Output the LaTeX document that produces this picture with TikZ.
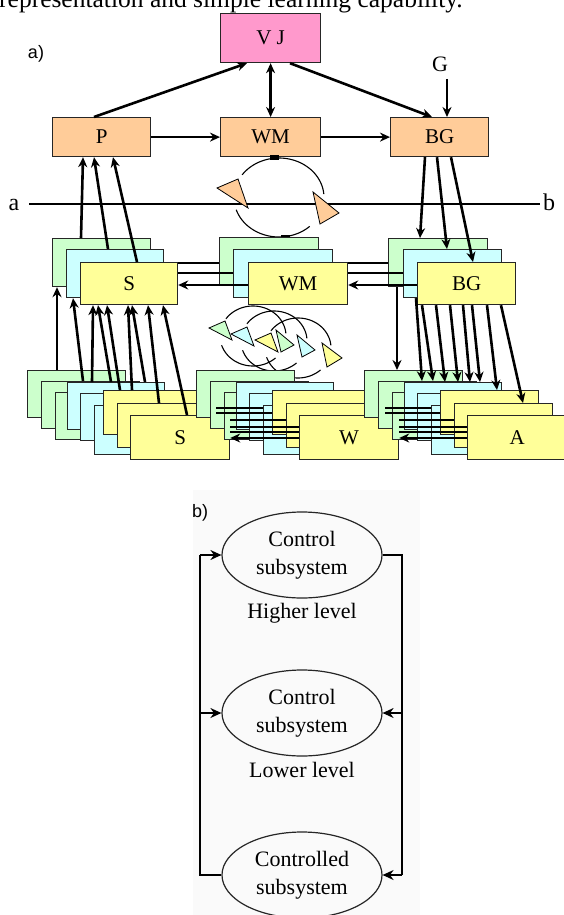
\documentclass[tikz,border=0pt]{standalone}
\usepackage{fontspec}
\setmainfont{Liberation Serif}
\newfontfamily\lsans{Liberation Sans}
\usetikzlibrary{arrows.meta,calc,shapes.geometric}
\definecolor{pinkbox}{HTML}{FF99CC}
\definecolor{orangebox}{HTML}{FFCC99}
\definecolor{greenbox}{HTML}{CCFFCC}
\definecolor{cyanbox}{HTML}{CCFFFF}
\definecolor{yellowbox}{HTML}{FFFF99}
\newcommand\bx[7]{\node[box,fill=#2,minimum width=#5pt,minimum height=#6pt] (#1) at ({#3},{#4}) {#7};}
\newcommand\botgrp[3]{%
\bx{#1g1}{greenbox}{27+#2}{370}{98}{47}{}
\bx{#1g2}{greenbox}{41+#2}{381}{98}{47}{}
\bx{#1g3}{greenbox}{55+#2}{392}{98}{47}{}
\bx{#1c1}{cyanbox}{67+#2}{382}{97}{47}{}
\bx{#1c2}{cyanbox}{80+#2}{393}{97}{47}{}
\bx{#1c3}{cyanbox}{94+#2}{405}{97}{49}{}
\bx{#1y1}{yellowbox}{103+#2}{390}{98}{44}{}
\bx{#1y2}{yellowbox}{117+#2}{403}{98}{44}{}
\bx{#1y3}{yellowbox}{130+#2}{415}{99}{44}{#3}
}
\newcommand\botlinks[2]{%
\draw[conn] (#1y2.east |- 0,408) -- (#2c3.west |- 0,408);
\draw[conn] (#1y2.east |- 0,413) -- (#2y1.west |- 0,413);
\draw[conn] (#1y3.east |- 0,420) -- (#2y2.west |- 0,420);
\draw[conn] (#1y3.east |- 0,427) -- (#2y3.west |- 0,427);
\draw[conn] (#1y3.east |- 0,432) -- (#2y3.west |- 0,432);
\draw[arr] (#2y3.west |- 0,438) -- (#1y3.east |- 0,438);
}
% small cycle: center x, center y, rx, ry
\newcommand\cyc[4]{%
\draw[cycl] plot[domain=5:145,samples=40,variable=\t] ({#1+#3*cos(\t)},{#2-#4*sin(\t)});
\draw[cycl] plot[domain=198:313,samples=40,variable=\t] ({#1+#3*cos(\t)},{#2-#4*sin(\t)});
}
\begin{document}
\begin{tikzpicture}[x=1pt,y=-1pt,
  box/.style={draw=black!85,line width=1.2pt,anchor=north west,inner sep=0pt,font=\fontsize{21}{24}\selectfont},
  arr/.style={line width=2.6pt,-{Stealth[length=10pt,width=9pt]}},
  darr/.style={line width=2.6pt,{Stealth[length=10pt,width=9pt]}-{Stealth[length=10pt,width=9pt]}},
  conn/.style={line width=2.8pt},
  cycl/.style={line width=1.1pt},
  tri/.style={draw=black,line width=0.8pt},
  ell/.style={draw=black!85,line width=1.2pt,ellipse,minimum width=160pt,minimum height=86pt,inner sep=0pt,align=center,font=\fontsize{22}{28}\selectfont},
  barr/.style={line width=1.5pt,-{Stealth[length=11pt,width=10pt]}},
  bline/.style={line width=1.5pt}
]
\useasboundingbox (0,0) rectangle (563,915);
\fill[white] (0,0) rectangle (563,915);
\fill[black!2] (193,490) rectangle (420,915);

% caption fragment cut at the top
\node[anchor=base west,inner sep=0pt,font=\fontsize{25.5}{28}\selectfont] (cap) at (-1,8) {representation and simple learning capability.};

% ---------- a) top level
\node[font=\lsans\fontsize{18}{20}\selectfont,inner sep=0pt] (la) at (36,54) {a)};
\bx{vj}{pinkbox}{220}{13}{100}{49}{V J}
\bx{p}{orangebox}{52}{117}{98}{39}{P}
\bx{wm}{orangebox}{220}{117}{100}{39}{WM}
\bx{bg}{orangebox}{390}{117}{98}{39}{BG}
\node[font=\fontsize{22}{24}\selectfont,inner sep=0pt] (G) at (440,64) {G};
\coordinate (gtop) at (447,79);
\draw[arr] (gtop) -- (gtop |- bg.north);
\draw[arr] ($(p.north west)+(42,0)$) -- ($(vj.south west)+(27,0)$);
\draw[darr] (vj.south) -- (wm.north);
\draw[arr] ($(vj.south west)+(70,0)$) -- ($(bg.north west)+(42,0)$);
\draw[arr] (p.east) -- (wm.west);
\draw[arr] (wm.east) -- (bg.west);

% line a--b
\node[font=\fontsize{24}{26}\selectfont,inner sep=0pt,anchor=base] (a) at (14,210) {a};
\node[font=\fontsize{24}{26}\selectfont,inner sep=0pt,anchor=base] (b) at (549,210) {b};
\coordinate (abl) at (29,204);
\coordinate (abr) at (540,204);
\draw[line width=1.2pt] (abl) -- (abr);

% top cycle
\cyc{279}{197.5}{45}{39.5}
\fill (270,155) rectangle (279,159.5);
\fill (281,235) rectangle (290,239);
\filldraw[tri,fill=orangebox] (217,188) -- (238,179) -- (248,208) -- cycle;
\filldraw[tri,fill=orangebox] (313,192) -- (339,213) -- (320,224) -- cycle;

% ---------- middle level
\bx{sg}{greenbox}{52}{238}{98}{48}{}
\bx{sc}{cyanbox}{66}{249}{97}{48}{}
\bx{sy}{yellowbox}{80}{262}{97}{42}{S}
\bx{wg}{greenbox}{219}{237}{99}{48}{}
\bx{wc}{cyanbox}{233}{249}{99}{48}{}
\bx{wy}{yellowbox}{248}{262}{99}{42}{WM}
\bx{bgg}{greenbox}{388}{238}{99}{48}{}
\bx{bgc}{cyanbox}{403}{249}{98}{48}{}
\bx{bgy}{yellowbox}{417}{262}{98}{42}{BG}

% middle horizontal links
\draw[conn] (sy.east |- 0,263) -- (wg.west |- 0,263);
\draw[conn] (sy.east |- 0,273) -- (wc.west |- 0,273);
\draw[arr] (wy.west |- 0,285) -- (sy.east |- 0,285);
\draw[conn] (wy.east |- 0,263) -- (bgg.west |- 0,263);
\draw[conn] (wy.east |- 0,273) -- (bgc.west |- 0,273);
\draw[arr] (bgy.west |- 0,285) -- (wy.east |- 0,285);

% middle -> P
\draw[arr] ($(sg.north west)+(29,0)$) -- ($(p.south west)+(31,0)$);
\draw[arr] ($(sc.north west)+(42,0)$) -- ($(p.south west)+(42,0)$);
\draw[arr] ($(sy.north west)+(57,0)$) -- ($(p.south west)+(61,0)$);
% BG -> middle
\draw[arr] ($(bg.south west)+(35,0)$) -- ($(bgg.north west)+(32,0)$);
\draw[arr] ($(bg.south west)+(47,0)$) -- ($(bgc.north west)+(44,0)$);
\draw[arr] ($(bg.south west)+(61,0)$) -- ($(bgy.north west)+(56,0)$);

% lower cycles
\cyc{253}{336}{33}{30}
\cyc{274}{341}{33}{30}
\cyc{298}{348}{33}{30}
\filldraw[tri,fill=greenbox] (209,328) -- (225,321) -- (232,340) -- cycle;
\filldraw[tri,fill=cyanbox] (231,334) -- (247,327) -- (254,346) -- cycle;
\filldraw[tri,fill=yellowbox] (255,340) -- (271,333) -- (278,352) -- cycle;
\filldraw[tri,fill=greenbox] (276,330) -- (294,345) -- (281,352) -- cycle;
\filldraw[tri,fill=cyanbox] (297,335) -- (315,350) -- (302,357) -- cycle;
\filldraw[tri,fill=yellowbox] (322,343) -- (342,358) -- (327,367) -- cycle;

% ---------- bottom level
\botgrp{L}{0}{S}
\botgrp{M}{169}{W}
\botgrp{R}{337}{A}
\botlinks{L}{M}
\botlinks{M}{R}

% bottom-left -> S stack
\draw[arr] ($(Lg1.north west)+(30,0)$) -- ($(sg.south west)+(5,0)$);
\draw[arr] ($(Lg2.north west)+(42,0)$) -- ($(sc.south west)+(7,0)$);
\draw[arr] ($(Lc1.north west)+(25,0)$) -- ($(sy.south west)+(13,0)$);
\draw[arr] ($(Lc1.north west)+(44,0)$) -- ($(sy.south west)+(18,0)$);
\draw[arr] ($(Ly1.north west)+(17,0)$) -- ($(sy.south west)+(27,0)$);
\draw[arr] ($(Ly1.north west)+(29,0)$) -- ($(sy.south west)+(48,0)$);
\draw[arr] ($(Lc1.north west)+(78,0)$) -- ($(sy.south west)+(52,0)$);
\draw[arr] ($(Ly2.north west)+(42,0)$) -- ($(sy.south west)+(68,0)$);
\draw[arr] ($(Ly3.north west)+(57,0)$) -- ($(sy.south west)+(83,0)$);

% BG stack -> bottom-right
\draw[arr] ($(bgg.south west)+(9,0)$) -- ($(Rg1.north west)+(33,0)$);
\draw[arr] ($(bgc.south west)+(13,0)$) -- ($(Rg2.north west)+(44,0)$);
\draw[arr] ($(bgy.south west)+(5,0)$) -- ($(Rg2.north west)+(55,0)$);
\draw[arr] ($(bgy.south west)+(19,0)$) -- ($(Rc1.north west)+(41,0)$);
\draw[arr] ($(bgy.south west)+(33,0)$) -- ($(Rc1.north west)+(54,0)$);
\draw[arr] ($(bgy.south west)+(46,0)$) -- ($(Rc1.north west)+(66,0)$);
\draw[arr] ($(bgy.south west)+(55,0)$) -- ($(Rc1.north west)+(76,0)$);
\draw[arr] ($(bgy.south west)+(70,0)$) -- ($(Ry1.north west)+(57,0)$);
\draw[arr] ($(bgy.south west)+(84,0)$) -- ($(Ry2.north west)+(69,0)$);

% ---------- b)
\node[font=\lsans\fontsize{18}{20}\selectfont,inner sep=0pt] (lb) at (200,513) {b)};
\node[ell] (e1) at (302,555) {Control\\subsystem};
\node[ell] (e2) at (302,713) {Control\\subsystem};
\node[ell] (e3) at (302,875) {Controlled\\subsystem};
\node[font=\fontsize{22}{24}\selectfont,inner sep=0pt] (hl) at (302,613) {Higher level};
\node[font=\fontsize{22}{24}\selectfont,inner sep=0pt] (ll) at (302,770) {Lower level};
\coordinate (R1) at (402,555);
\coordinate (R3) at (402,875);
\coordinate (L1) at (200,555);
\coordinate (L3) at (200,875);
\draw[bline] (e1.east) -- (R1) -- (R3);
\draw[barr] (R3) -- (e3.east);
\draw[barr] (e2.east -| R1) -- (e2.east);
\draw[bline] (e3.west) -- (L3) -- (L1);
\draw[barr] (L1) -- (e1.west);
\draw[barr] (e2.west -| L1) -- (e2.west);
\end{tikzpicture}
\end{document}
